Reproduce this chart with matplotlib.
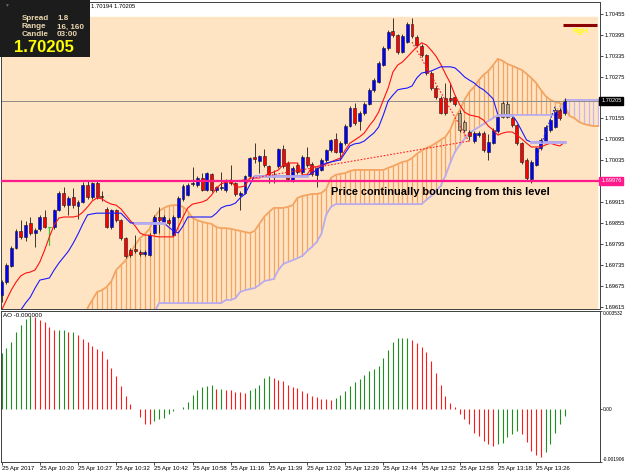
import numpy as np
import matplotlib.pyplot as plt
from matplotlib.patches import Rectangle

plt.rcParams['font.family'] = ['Liberation Sans', 'DejaVu Sans']

# ── 1. DATA (M1 chart, 25 Apr 2017) ───────────────────────────────────────────
opens = [
    1.69648, 1.69685, 1.69731, 1.69783, 1.69832, 1.69815, 1.69855, 1.69826, 1.69838, 1.69872,
    1.69843, 1.69843, 1.69892, 1.69941, 1.69906, 1.69929, 1.69904, 1.69915, 1.69964, 1.69929,
    1.69970, 1.69932, 1.69895, 1.69843, 1.69892, 1.69863, 1.69812, 1.69777, 1.69780, 1.69771,
    1.69766, 1.69763, 1.69826, 1.69872, 1.69858, 1.69863, 1.69820, 1.69872, 1.69924, 1.69935,
    1.69967, 1.69964, 1.69984, 1.69950, 1.69996, 1.69950, 1.69955, 1.69950, 1.69978, 1.69970,
    1.69935, 1.69941, 1.69990, 1.70044, 1.70033, 1.70047, 1.70018, 1.69990, 1.70018, 1.70067,
    1.70027, 1.69978, 1.70021, 1.70001, 1.70044, 1.70024, 1.69993, 1.70007, 1.70036, 1.70064,
    1.70096, 1.70059, 1.70084, 1.70133, 1.70185, 1.70148, 1.70171, 1.70196, 1.70237, 1.70260,
    1.70308, 1.70357, 1.70406, 1.70395, 1.70346, 1.70374, 1.70426, 1.70389, 1.70363, 1.70337,
    1.70285, 1.70242, 1.70214, 1.70214, 1.70214, 1.70217, 1.70171, 1.70145, 1.70116, 1.70090,
    1.70107, 1.70113, 1.70059, 1.70084, 1.70119, 1.70159, 1.70159, 1.70156, 1.70136, 1.70084,
    1.70036, 1.69981, 1.70021, 1.70070, 1.70090, 1.70122, 1.70130, 1.70179, 1.70171]
highs = [
    1.69691, 1.69740, 1.69789, 1.69838, 1.69863, 1.69861, 1.69872, 1.69840, 1.69878, 1.69892,
    1.69843, 1.69895, 1.69947, 1.69958, 1.69932, 1.69955, 1.69921, 1.69972, 1.69975, 1.69972,
    1.69975, 1.69947, 1.69901, 1.69895, 1.69895, 1.69866, 1.69815, 1.69783, 1.69820, 1.69777,
    1.69777, 1.69826, 1.69878, 1.69901, 1.69878, 1.69869, 1.69878, 1.69932, 1.69967, 1.69970,
    1.70016, 1.69990, 1.69998, 1.70001, 1.69998, 1.69961, 1.70001, 1.69981, 1.70021, 1.69972,
    1.69947, 1.69993, 1.70044, 1.70084, 1.70050, 1.70067, 1.70021, 1.70007, 1.70070, 1.70079,
    1.70033, 1.70018, 1.70027, 1.70050, 1.70073, 1.70030, 1.70016, 1.70041, 1.70067, 1.70096,
    1.70113, 1.70090, 1.70139, 1.70191, 1.70199, 1.70176, 1.70202, 1.70242, 1.70271, 1.70320,
    1.70363, 1.70409, 1.70443, 1.70397, 1.70397, 1.70432, 1.70443, 1.70395, 1.70369, 1.70340,
    1.70291, 1.70248, 1.70219, 1.70257, 1.70257, 1.70222, 1.70179, 1.70150, 1.70122, 1.70119,
    1.70119, 1.70119, 1.70110, 1.70127, 1.70162, 1.70205, 1.70205, 1.70162, 1.70139, 1.70087,
    1.70041, 1.70036, 1.70073, 1.70099, 1.70136, 1.70156, 1.70185, 1.70185, 1.70214]
lows = [
    1.69628, 1.69680, 1.69728, 1.69780, 1.69809, 1.69803, 1.69820, 1.69786, 1.69832, 1.69840,
    1.69792, 1.69838, 1.69889, 1.69901, 1.69878, 1.69898, 1.69866, 1.69912, 1.69924, 1.69924,
    1.69924, 1.69918, 1.69840, 1.69838, 1.69858, 1.69806, 1.69754, 1.69757, 1.69769, 1.69760,
    1.69760, 1.69760, 1.69823, 1.69826, 1.69852, 1.69849, 1.69817, 1.69869, 1.69918, 1.69932,
    1.69961, 1.69958, 1.69947, 1.69947, 1.69944, 1.69944, 1.69950, 1.69944, 1.69964, 1.69932,
    1.69892, 1.69938, 1.69984, 1.70027, 1.69998, 1.70016, 1.69970, 1.69970, 1.70013, 1.70013,
    1.69975, 1.69972, 1.69996, 1.69996, 1.70016, 1.69990, 1.69958, 1.70004, 1.70030, 1.70059,
    1.70056, 1.70036, 1.70079, 1.70130, 1.70136, 1.70122, 1.70165, 1.70194, 1.70231, 1.70257,
    1.70306, 1.70351, 1.70389, 1.70340, 1.70343, 1.70372, 1.70386, 1.70360, 1.70331, 1.70280,
    1.70237, 1.70211, 1.70168, 1.70165, 1.70202, 1.70191, 1.70116, 1.70116, 1.70093, 1.70084,
    1.70102, 1.70059, 1.70036, 1.70082, 1.70113, 1.70156, 1.70156, 1.70130, 1.70079, 1.70024,
    1.69978, 1.69970, 1.70018, 1.70064, 1.70084, 1.70116, 1.70127, 1.70150, 1.70165]
closes = [
    1.69685, 1.69734, 1.69783, 1.69832, 1.69815, 1.69849, 1.69826, 1.69835, 1.69872, 1.69843,
    1.69843, 1.69892, 1.69941, 1.69906, 1.69927, 1.69906, 1.69915, 1.69964, 1.69929, 1.69970,
    1.69929, 1.69929, 1.69843, 1.69892, 1.69863, 1.69812, 1.69760, 1.69763, 1.69774, 1.69766,
    1.69771, 1.69820, 1.69872, 1.69863, 1.69872, 1.69855, 1.69872, 1.69927, 1.69961, 1.69964,
    1.69970, 1.69984, 1.69950, 1.69998, 1.69950, 1.69958, 1.69958, 1.69978, 1.69970, 1.69938,
    1.69941, 1.69990, 1.70041, 1.70039, 1.70047, 1.70021, 1.69987, 1.69987, 1.70067, 1.70018,
    1.69981, 1.70013, 1.70001, 1.70044, 1.70021, 1.69996, 1.70013, 1.70036, 1.70064, 1.70093,
    1.70059, 1.70084, 1.70133, 1.70185, 1.70142, 1.70171, 1.70196, 1.70237, 1.70265, 1.70314,
    1.70357, 1.70403, 1.70395, 1.70346, 1.70392, 1.70426, 1.70392, 1.70366, 1.70337, 1.70285,
    1.70242, 1.70217, 1.70171, 1.70171, 1.70208, 1.70196, 1.70122, 1.70122, 1.70105, 1.70113,
    1.70113, 1.70064, 1.70087, 1.70122, 1.70159, 1.70199, 1.70196, 1.70136, 1.70084, 1.70030,
    1.69984, 1.70030, 1.70070, 1.70093, 1.70130, 1.70150, 1.70179, 1.70156, 1.70205]

# Ichimoku: tenkan-sen and kijun-sen (one value per bar)
tenkan = [
    1.69605, 1.69634, 1.69662, 1.69685, 1.69703, 1.69711, 1.69714, 1.69720, 1.69743, 1.69777,
    1.69815, 1.69849, 1.69869, 1.69872, 1.69872, 1.69872, 1.69875, 1.69886, 1.69901, 1.69918,
    1.69927, 1.69924, 1.69915, 1.69909, 1.69906, 1.69895, 1.69878, 1.69861, 1.69846, 1.69826,
    1.69820, 1.69820, 1.69817, 1.69815, 1.69815, 1.69815, 1.69815, 1.69843, 1.69872, 1.69898,
    1.69909, 1.69912, 1.69915, 1.69921, 1.69935, 1.69955, 1.69967, 1.69972, 1.69978, 1.69958,
    1.69958, 1.69961, 1.69984, 1.69984, 1.69984, 1.69990, 1.69996, 1.70001, 1.70007, 1.70021,
    1.70027, 1.70027, 1.70027, 1.69993, 1.69993, 1.70016, 1.70016, 1.70021, 1.70024, 1.70030,
    1.70036, 1.70041, 1.70064, 1.70084, 1.70093, 1.70102, 1.70113, 1.70133, 1.70150, 1.70173,
    1.70208, 1.70242, 1.70288, 1.70308, 1.70317, 1.70331, 1.70346, 1.70360, 1.70372, 1.70366,
    1.70351, 1.70334, 1.70311, 1.70283, 1.70257, 1.70222, 1.70194, 1.70173, 1.70165, 1.70162,
    1.70159, 1.70150, 1.70133, 1.70122, 1.70107, 1.70113, 1.70116, 1.70116, 1.70107, 1.70096,
    1.70084, 1.70073, 1.70073, 1.70073, 1.70079, 1.70084, 1.70079, 1.70076, 1.70087]
kijun = [
    np.nan, np.nan, np.nan, 1.69591, 1.69605, 1.69625, 1.69642, 1.69668, 1.69691, 1.69694,
    1.69697, 1.69720, 1.69740, 1.69757, 1.69774, 1.69797, 1.69823, 1.69852, 1.69878, 1.69881,
    1.69883, 1.69883, 1.69883, 1.69883, 1.69883, 1.69883, 1.69869, 1.69855, 1.69855, 1.69855,
    1.69855, 1.69855, 1.69855, 1.69855, 1.69855, 1.69843, 1.69832, 1.69826, 1.69846, 1.69872,
    1.69872, 1.69872, 1.69872, 1.69872, 1.69872, 1.69883, 1.69898, 1.69904, 1.69906, 1.69912,
    1.69927, 1.69938, 1.69964, 1.69990, 1.69990, 1.69990, 1.69990, 1.69990, 1.69990, 1.69990,
    1.69990, 1.69990, 1.69990, 1.69990, 1.69990, 1.69998, 1.70007, 1.70018, 1.70027, 1.70030,
    1.70033, 1.70036, 1.70056, 1.70076, 1.70082, 1.70084, 1.70090, 1.70102, 1.70113, 1.70130,
    1.70165, 1.70205, 1.70222, 1.70237, 1.70240, 1.70242, 1.70248, 1.70271, 1.70285, 1.70288,
    1.70291, 1.70297, 1.70303, 1.70303, 1.70303, 1.70300, 1.70288, 1.70274, 1.70265, 1.70257,
    1.70245, 1.70237, 1.70225, 1.70211, 1.70165, 1.70165, 1.70165, 1.70165, 1.70145, 1.70119,
    1.70093, 1.70087, 1.70087, 1.70087, 1.70087, 1.70087, 1.70087, 1.70087, 1.70087]
flat_kijun = [(28, 34), (53, 64), (104, 107), (111, 118)]   # drawn in lavender

# Senkou spans (already shifted 26 bars forward), bars 18..125
cloud_start = 18
senkou_a = [
    1.69611, 1.69634, 1.69657, 1.69662, 1.69671, 1.69688, 1.69720, 1.69734, 1.69748, 1.69771,
    1.69792, 1.69812, 1.69823, 1.69838, 1.69872, 1.69889, 1.69898, 1.69904, 1.69906, 1.69906,
    1.69901, 1.69889, 1.69869, 1.69863, 1.69858, 1.69855, 1.69852, 1.69843, 1.69840, 1.69840,
    1.69838, 1.69835, 1.69832, 1.69829, 1.69826, 1.69832, 1.69852, 1.69872, 1.69886, 1.69898,
    1.69898, 1.69898, 1.69901, 1.69906, 1.69927, 1.69932, 1.69935, 1.69938, 1.69938, 1.69941,
    1.69952, 1.69984, 1.69993, 1.69996, 1.69998, 1.70004, 1.70007, 1.70007, 1.70007, 1.70007,
    1.70007, 1.70007, 1.70007, 1.70013, 1.70018, 1.70024, 1.70030, 1.70033, 1.70041, 1.70053,
    1.70062, 1.70070, 1.70076, 1.70084, 1.70093, 1.70102, 1.70122, 1.70156, 1.70179, 1.70208,
    1.70231, 1.70245, 1.70265, 1.70280, 1.70291, 1.70308, 1.70326, 1.70320, 1.70311, 1.70306,
    1.70300, 1.70294, 1.70283, 1.70271, 1.70257, 1.70237, 1.70219, 1.70208, 1.70202, 1.70199,
    1.70191, 1.70162, 1.70156, 1.70145, 1.70139, 1.70136, 1.70133, 1.70133]
senkou_b = [
    1.69599, 1.69599, 1.69599, 1.69599, 1.69599, 1.69599, 1.69599, 1.69599, 1.69599, 1.69599,
    1.69599, 1.69599, 1.69599, 1.69599, 1.69599, 1.69625, 1.69625, 1.69625, 1.69625, 1.69625,
    1.69625, 1.69625, 1.69625, 1.69625, 1.69625, 1.69625, 1.69625, 1.69625, 1.69625, 1.69634,
    1.69634, 1.69639, 1.69657, 1.69662, 1.69665, 1.69668, 1.69677, 1.69688, 1.69691, 1.69694,
    1.69720, 1.69737, 1.69743, 1.69748, 1.69754, 1.69760, 1.69774, 1.69786, 1.69800, 1.69823,
    1.69878, 1.69901, 1.69909, 1.69909, 1.69909, 1.69909, 1.69909, 1.69909, 1.69909, 1.69909,
    1.69909, 1.69909, 1.69909, 1.69909, 1.69909, 1.69909, 1.69909, 1.69909, 1.69909, 1.69909,
    1.69909, 1.69921, 1.69932, 1.69947, 1.69961, 1.69990, 1.70027, 1.70059, 1.70079, 1.70096,
    1.70113, 1.70122, 1.70130, 1.70139, 1.70148, 1.70156, 1.70165, 1.70165, 1.70165, 1.70165,
    1.70165, 1.70165, 1.70165, 1.70165, 1.70165, 1.70165, 1.70165, 1.70165, 1.70165, 1.70165,
    1.70208, 1.70208, 1.70208, 1.70208, 1.70208, 1.70208, 1.70208, 1.70208]

# Awesome Oscillator
ao = [
    0.00203, 0.00221, 0.00240, 0.00276, 0.00302, 0.00325, 0.00336, 0.00331, 0.00322, 0.00313,
    0.00295, 0.00283, 0.00285, 0.00286, 0.00276, 0.00279, 0.00267, 0.00252, 0.00240, 0.00228,
    0.00218, 0.00210, 0.00181, 0.00149, 0.00120, 0.00084, 0.00048, 0.00018, 0.00001, -0.00028,
    -0.00053, -0.00055, -0.00043, -0.00035, -0.00032, -0.00016, -0.00006, 0.00001, 0.00008, 0.00026,
    0.00049, 0.00069, 0.00079, 0.00084, 0.00085, 0.00072, 0.00073, 0.00070, 0.00069, 0.00063,
    0.00061, 0.00059, 0.00069, 0.00076, 0.00088, 0.00112, 0.00119, 0.00112, 0.00103, 0.00102,
    0.00088, 0.00078, 0.00075, 0.00066, 0.00058, 0.00048, 0.00044, 0.00037, 0.00036, 0.00032,
    0.00040, 0.00050, 0.00066, 0.00083, 0.00098, 0.00107, 0.00122, 0.00137, 0.00143, 0.00155,
    0.00183, 0.00213, 0.00240, 0.00255, 0.00256, 0.00257, 0.00249, 0.00237, 0.00222, 0.00207,
    0.00173, 0.00131, 0.00087, 0.00047, 0.00023, 0.00006, -0.00016, -0.00036, -0.00052, -0.00085,
    -0.00097, -0.00114, -0.00126, -0.00132, -0.00126, -0.00121, -0.00102, -0.00088, -0.00078, -0.00090,
    -0.00120, -0.00150, -0.00166, -0.00172, -0.00156, -0.00126, -0.00087, -0.00055, -0.00025]

time_labels = ['25 Apr 2017', '25 Apr 10:20', '25 Apr 10:27', '25 Apr 10:32', '25 Apr 10:42',
               '25 Apr 10:58', '25 Apr 11:16', '25 Apr 11:39', '25 Apr 12:02', '25 Apr 12:29',
               '25 Apr 12:44', '25 Apr 12:52', '25 Apr 12:58', '25 Apr 13:18', '25 Apr 13:26']
label_every = 8
price_ticks = [1.69615, 1.69675, 1.69735, 1.69795, 1.69855, 1.69915, 1.70035,
               1.70095, 1.70155, 1.70275, 1.70335, 1.70395, 1.70455]

# trend lines / objects (bar, price)
trend_red = ([47, 98], [1.69970, 1.70090])
trend_red2 = ([86, 98], [1.70374, 1.70087])
trend_blue = ([112, 116], [1.70040, 1.70190])
trend_gold = ([116, 118], [1.70173, 1.70208])
support_level = 1.69976
bid, ask = 1.70194, 1.70205
rgh_level, rgh_bars = 1.70423, (117.6, 124.8)
tan_bars = [96, 97, 105, 106]
doji_bar = 10

# ── 2. FIGURE ─────────────────────────────────────────────────────────────────
W, H = 625, 476
fig = plt.figure(figsize=(W / 100, H / 100), dpi=100)


def box(l, t, r, b):
    return [l / W, 1 - b / H, (r - l) / W, (b - t) / H]


ax = fig.add_axes(box(1, 2, 600, 309))
ax2 = fig.add_axes(box(1, 311, 600, 462))

o, h, l, c = map(np.array, (opens, highs, lows, closes))
x = np.arange(len(c))
xlim = (-0.14, 125.4)

# background
ax.set_facecolor('white')
ax.axhspan(1.69500, 1.70446, xmin=0, xmax=0.995, color='#ffe4c4', zorder=0)

# cloud
xc = np.arange(cloud_start, cloud_start + len(senkou_a))
sa, sb = np.array(senkou_a), np.array(senkou_b)
hatch = np.where(sa >= sb, '#f4a460', '#c9b6e6')
ax.vlines(xc, sa, sb, colors=hatch, lw=0.9, zorder=1)
ax.plot(xc, sa, color='#f4a460', lw=1.3, zorder=2)
ax.plot(xc, sb, color='#b8acee', lw=1.3, zorder=2)

# current price line
ax.axhline(ask, color='#8c8c8c', lw=0.7, zorder=2)

# candles
up = c >= o
body = np.where(up, '#0000ff', '#ff0000').astype('<U7')
body[tan_bars] = '#b9a27f'
ax.vlines(x, l, h, color='#1a1a1a', lw=0.6, zorder=3)
ax.bar(x, c - o, bottom=o, width=0.62, color=body, edgecolor='#1a1a1a', lw=0.4, zorder=4)
ax.vlines(doji_bar, l[doji_bar], h[doji_bar], color='#33cc33', lw=0.9, zorder=5)
ax.hlines(o[doji_bar], doji_bar - 0.35, doji_bar + 0.35, color='#33cc33', lw=0.9, zorder=5)

# tenkan / kijun
kj = np.array(kijun)
ax.plot(x, tenkan, color='#ff1010', lw=0.8, zorder=5)
ax.plot(x, kj, color='#1a1aff', lw=0.8, zorder=5)
for s, e in flat_kijun:
    ax.plot(x[s:e + 1], kj[s:e + 1], color='#b8acee', lw=2.0, zorder=5)

# trend lines
dot = (0, (1.5, 1.5))
ax.plot(*trend_red, color='#ff2020', lw=0.8, ls=dot, zorder=5)
ax.plot(*trend_red2, color='#ff2020', lw=0.8, ls=dot, zorder=5)
ax.plot(*trend_blue, color='#2020ff', lw=0.8, ls=dot, zorder=5)
ax.plot(*trend_gold, color='#e8b030', lw=0.8, ls=dot, zorder=5)

# support line and note
ax.axhline(support_level, color='#ff1a8c', lw=1.6, zorder=6)
ax.text(69, 1.69944, 'Price continually bouncing from this level', fontsize=7.9,
        fontweight='bold', va='center', ha='left', zorder=7)

# RgH object
ax.hlines(rgh_level, *rgh_bars, color='#8b0000', lw=2.2, zorder=6)
ax.text(121.3, 1.70405, 'RgH', color='#ffff00', fontsize=5.5, fontweight='bold',
        ha='center', va='center', zorder=7)

ax.set_xlim(*xlim)
ax.set_ylim(1.69608, 1.70489)
ax.set_xticks([])
ax.yaxis.tick_right()
ax.set_yticks(price_ticks)
ax.set_yticklabels([f'{v:.5f}' for v in price_ticks])
ax.tick_params(axis='y', length=2, width=0.5, pad=1, labelsize=4.1)
for sp in ax.spines.values():
    sp.set_color('#404040')
    sp.set_linewidth(0.7)

# price labels on the scale
tr = ax.get_yaxis_transform()
ax.text(1.002, ask, f'{ask:.5f}', transform=tr, ha='left', va='center', color='white',
        fontsize=4.1, zorder=8, clip_on=False,
        bbox=dict(boxstyle='square,pad=0.3', fc='black', ec='black'))
ax.text(1.002, support_level, f'{support_level:.5f}', transform=tr, ha='left', va='center',
        color='white', fontsize=4.1, zorder=8, clip_on=False,
        bbox=dict(boxstyle='square,pad=0.3', fc='#ff1a8c', ec='#ff1a8c'))

# ── 3. AO PANEL ───────────────────────────────────────────────────────────────
aov = np.array(ao)
ao_col = ['#1f8f1f' if i == 0 or aov[i] > aov[i - 1] else '#ff1a1a' for i in range(len(aov))]
ax2.vlines(x, 0, aov, colors=ao_col, lw=0.8)
ax2.set_xlim(*xlim)
ax2.set_ylim(-0.001906, 0.003532)
ax2.yaxis.tick_right()
ax2.set_yticks([0.003532, 0.0, -0.001906])
ax2.set_yticklabels(['0.003532', '0.00', '-0.001906'])
for lbl, va in zip(ax2.get_yticklabels(), ['top', 'center', 'bottom']):
    lbl.set_verticalalignment(va)
ax2.tick_params(axis='y', length=1.5, width=0.5, pad=0.5, labelsize=3.5)
ax2.set_xticks(np.arange(len(time_labels)) * label_every)
ax2.set_xticklabels(time_labels, ha='left')
ax2.tick_params(axis='x', length=2, width=0.5, pad=1, labelsize=4.3)
for sp in ax2.spines.values():
    sp.set_color('#404040')
    sp.set_linewidth(0.7)
ax2.text(0.004, 0.985, 'AO -0.000000', transform=ax2.transAxes, fontsize=4.5, va='top')

# ── 4. INFO BOX AND HEADER ────────────────────────────────────────────────────
fig.add_artist(Rectangle((0, 1 - 57 / H), 90 / W, 57 / H, transform=fig.transFigure,
                         facecolor='#1c1c1c', edgecolor='none', zorder=10))
fig.text(4 / W, 1 - 5 / H, '▼', color='#666666', fontsize=3.5, va='center', zorder=11)
info = [('Spread', '1.8'), ('Range', '16, 160'), ('Candle', '03:00')]
for k, (name, val) in enumerate(info):
    yy = 1 - (19 + 8 * k) / H
    fig.text(22 / W, yy, name, color='#ead6ae', fontsize=5.8, fontweight='bold',
             va='center', zorder=11)
    fig.text(57 / W, yy, val, color='#ead6ae', fontsize=5.8, fontweight='bold',
             va='center', zorder=11)
fig.text(14 / W, 1 - 48 / H, f'{ask:.5f}', color='#ffff00', fontsize=12,
         fontweight='bold', va='center', zorder=11)
fig.text(91 / W, 1 - 6 / H, f'{bid:.5f} {ask:.5f}', fontsize=4.2, va='center')

fig.savefig('out.png', dpi=100)
